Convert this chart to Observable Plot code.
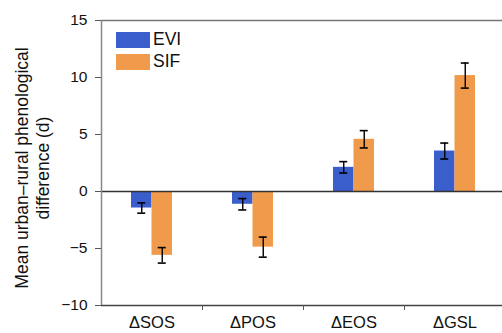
<!DOCTYPE html>
<html>
<head>
<meta charset="utf-8">
<script src="https://cdn.jsdelivr.net/npm/d3@7"></script>
<script src="https://cdn.jsdelivr.net/npm/@observablehq/plot@0.6"></script>
<style>
  html, body { margin: 0; padding: 0; background: #fff; }
  #wrap { position: relative; width: 502px; height: 333px; font-family: "Liberation Sans", Arial, Helvetica, sans-serif; }
  .lg { position: absolute; display: flex; align-items: center; font-size: 17.5px; color: #111; }
  .sw { width: 34px; height: 16px; margin-right: 3px; }
</style>
</head>
<body>
<div id="wrap"></div>
<script>
const categories = ["ΔSOS", "ΔPOS", "ΔEOS", "ΔGSL"];
const series = ["EVI", "SIF"];
const eviValues = [-1.45, -1.12, 2.12, 3.55];
const eviErrors = [0.45, 0.5, 0.5, 0.7];
const sifValues = [-5.6, -4.88, 4.58, 10.17];
const sifErrors = [0.68, 0.88, 0.76, 1.1];
const yTicks = [-10, -5, 0, 5, 10, 15];
const colors = ["#3a5ecc", "#f09b4b"];
const yLabel = "Mean urban\u2013rural phenological\ndifference (d)";

const W = 502, H = 333, ML = 101, MR = -3, MT = 20, MB = 28;
const bw = (W - ML - MR) / categories.length;
const barW = 20.5;

const rows = [];
categories.forEach((c, i) => {
  rows.push({cat: c, series: "EVI", value: eviValues[i], err: eviErrors[i]});
  rows.push({cat: c, series: "SIF", value: sifValues[i], err: sifErrors[i]});
});
const evi = rows.filter(d => d.series === "EVI");
const sif = rows.filter(d => d.series === "SIF");

const capHalf = 4;
function errMarks(data, dx) {
  return [
    Plot.ruleX(data, {x: "cat", y1: d => d.value - d.err, y2: d => d.value + d.err, dx, stroke: "#000", strokeWidth: 1.4}),
    Plot.tickY(data, {x: "cat", y: d => d.value - d.err, dx, insetLeft: bw / 2 - capHalf, insetRight: bw / 2 - capHalf, stroke: "#000", strokeWidth: 1.6}),
    Plot.tickY(data, {x: "cat", y: d => d.value + d.err, dx, insetLeft: bw / 2 - capHalf, insetRight: bw / 2 - capHalf, stroke: "#000", strokeWidth: 1.6})
  ];
}

const chart = Plot.plot({
  width: W, height: H,
  marginLeft: ML, marginRight: MR, marginTop: MT, marginBottom: MB,
  style: {fontFamily: "Liberation Sans, Arial, Helvetica, sans-serif", fontSize: "15px", color: "#111", background: "#fff"},
  x: {domain: categories, padding: 0, round: false, label: null},
  y: {domain: [-10, 15], label: null},
  color: {domain: series, range: colors},
  marks: [
    Plot.barY(evi, {x: "cat", y: "value", fill: d => d.series, insetLeft: bw / 2 - barW, insetRight: bw / 2}),
    Plot.barY(sif, {x: "cat", y: "value", fill: d => d.series, insetLeft: bw / 2, insetRight: bw / 2 - barW}),
    ...errMarks(evi, -barW / 2),
    ...errMarks(sif, barW / 2),
    Plot.ruleY([0], {stroke: "#333", strokeWidth: 1.5}),
    Plot.ruleY([15], {stroke: "#777", strokeWidth: 1.5}),
    Plot.ruleY([-10], {stroke: "#444", strokeWidth: 1.5}),
    Plot.ruleX([categories[0]], {dx: -bw / 2, stroke: "#888", strokeWidth: 1.5}),
    Plot.axisY({ticks: yTicks, tickSize: 6, tickPadding: 8, fontSize: 15.5, label: null, stroke: "#555"}),
    Plot.axisX({ticks: categories.slice(1), dx: -bw / 2, tickSize: 5, tickFormat: () => "", label: null, stroke: "#555"}),
    Plot.axisX({tickSize: 0, tickPadding: 11, fontSize: 16.5, label: null}),
    Plot.text([yLabel], {frameAnchor: "left", dx: -70, dy: 5, rotate: -90, textAnchor: "middle", lineAnchor: "middle", fontSize: 17.5, lineHeight: 1.25, fill: "#111"})
  ]
});

const wrap = document.getElementById("wrap");
wrap.appendChild(chart);
series.forEach((s, i) => {
  const el = document.createElement("div");
  el.className = "lg";
  el.style.left = "116px";
  el.style.top = (29 + i * 22) + "px";
  el.innerHTML = `<div class="sw" style="background:${colors[i]}"></div><span>${s}</span>`;
  wrap.appendChild(el);
});
</script>
</body>
</html>
